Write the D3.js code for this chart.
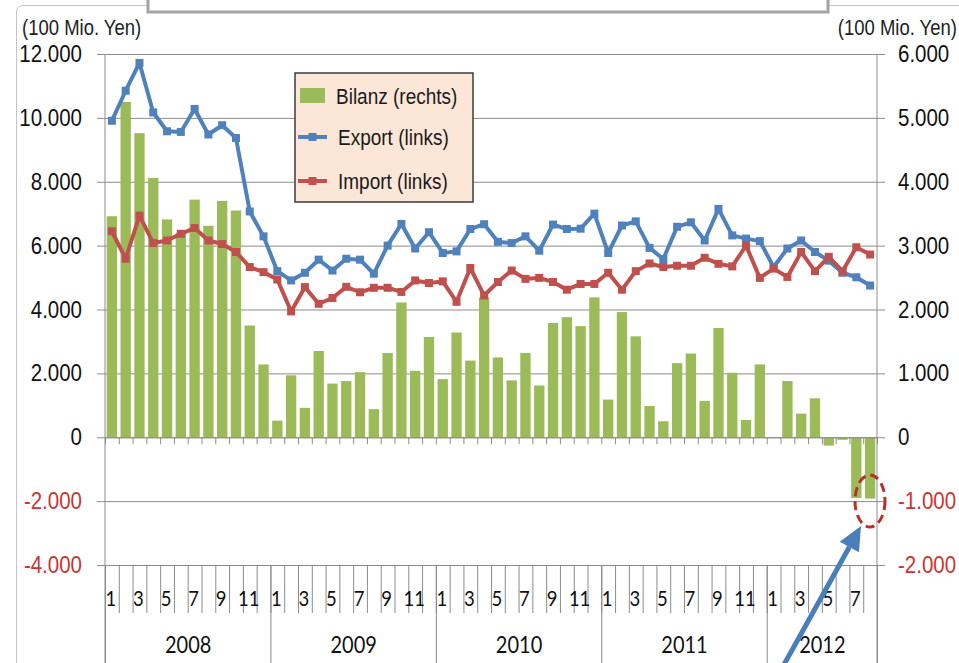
<!DOCTYPE html>
<html>
<head>
<meta charset="utf-8">
<script src="https://cdn.jsdelivr.net/npm/d3@7"></script>
<style>
body { margin: 0; background: #fff; }
svg text { transform-box: fill-box; transform-origin: center; transform: scaleY(1.15); }
</style>
</head>
<body>
<div id="chart"></div>
<script>
var years = ['2008', '2009', '2010', '2011', '2012'];
var monthsPerYear = [12, 12, 12, 12, 8];

// Bilanz, right axis (100 Mio. Yen)
var bilanz = [3460, 5250, 4760, 4060, 3410, 3200, 3720, 3310, 3700, 3550, 1750, 1140,
    260, 970, 460, 1350, 840, 880, 1020, 440, 1320, 2110, 1040, 1570,
    910, 1640, 1200, 2190, 1250, 890, 1320, 810, 1790, 1880, 1740, 2190,
    590, 1960, 1580, 490, 250, 1160, 1310, 570, 1710, 1010, 270, 1140,
    0, 880, 370, 610, -130, -40, -950, -960];

// Export / Import, left axis
var exportVals = [9910, 10850, 11720, 10170, 9580, 9560, 10280, 9480, 9770, 9370, 7070, 6290,
    5200, 4910, 5150, 5560, 5220, 5590, 5560, 5120, 6000, 6680, 5910, 6420,
    5770, 5820, 6520, 6670, 6120, 6080, 6290, 5840, 6660, 6520, 6530, 7000,
    5770, 6630, 6760, 5930, 5580, 6590, 6730, 6160, 7150, 6320, 6220, 6140,
    5330, 5910, 6160, 5800, 5530, 5150, 5010, 4750];
var importVals = [6450, 5590, 6940, 6080, 6160, 6370, 6550, 6160, 6050, 5800, 5330, 5170,
    4940, 3940, 4700, 4180, 4360, 4710, 4540, 4680, 4680, 4550, 4910, 4830,
    4880, 4240, 5300, 4440, 4860, 5220, 4960, 4990, 4860, 4620, 4800, 4800,
    5150, 4620, 5200, 5440, 5330, 5370, 5370, 5620, 5430, 5350, 6000, 4990,
    5280, 5020, 5800, 5200, 5650, 5200, 5950, 5720];

var leftTicks = [-4000, -2000, 0, 2000, 4000, 6000, 8000, 10000, 12000];
var rightTicks = [-2000, -1000, 0, 1000, 2000, 3000, 4000, 5000, 6000];
var legendLabels = ['Bilanz (rechts)', 'Export (links)', 'Import (links)'];
var unitLabel = '(100 Mio. Yen)';

var W = 959, H = 663;
var plot = {left: 105, right: 877, top: 54, bottom: 565};
var GREEN = '#9bbb59', BLUE = '#4f81bd', RED = '#c0504d', NEG = '#cc3333', GRID = '#8c8c8c';
var numFont = 'Liberation Sans, Arial, sans-serif';
var catFont = 'Lato, Carlito, Calibri, sans-serif';

var months = [];
var yearStarts = [];
years.forEach(function (y, yi) {
    yearStarts.push(months.length);
    for (var m = 1; m <= monthsPerYear[yi]; m++) {
        months.push({year: y, month: m});
    }
});
yearStarts.push(months.length);

var svg = d3.select('#chart').append('svg').attr('width', W).attr('height', H);

var x = d3.scaleBand().domain(d3.range(months.length))
    .range([plot.left, plot.right]).paddingInner(0.25).paddingOuter(0.125);
var xPos = d3.scaleLinear().domain([0, months.length]).range([plot.left, plot.right]);
var yL = d3.scaleLinear().domain([-4000, 12000]).range([plot.bottom, plot.top]);
var yR = d3.scaleLinear().domain([-2000, 6000]).range([plot.bottom, plot.top]);

var de = d3.formatLocale({decimal: ',', thousands: '.', grouping: [3], currency: ['', ' €'], minus: '-'});
var fmt = de.format(',');

function cx(i) { return x(i) + x.bandwidth() / 2; }

// outer frame and the cut-off text box at the top
svg.append('rect').attr('x', 16.5).attr('y', 5.5).attr('width', 1000).attr('height', 700).attr('rx', 6)
    .attr('fill', 'none').attr('stroke', '#c4c4c4');
svg.append('rect').attr('x', 148).attr('y', -20).attr('width', 680).attr('height', 32)
    .attr('fill', '#fff').attr('stroke', '#a3a3a3').attr('stroke-width', 3);

// gridlines
svg.append('g').attr('transform', 'translate(' + plot.left + ',0)')
    .call(d3.axisLeft(yL).tickValues(leftTicks).tickSize(-(plot.right - plot.left)).tickFormat(''))
    .call(function (g) {
        g.select('.domain').remove();
        g.selectAll('line').attr('stroke', GRID);
    });

// bars
svg.append('g').selectAll('rect').data(bilanz).enter().append('rect')
    .attr('x', function (d, i) { return x(i); })
    .attr('width', x.bandwidth())
    .attr('y', function (d) { return yR(Math.max(0, d)); })
    .attr('height', function (d) { return Math.abs(yR(d) - yR(0)); })
    .attr('fill', GREEN);

// zero line with month ticks
svg.append('g').attr('transform', 'translate(0,' + yL(0) + ')')
    .call(d3.axisBottom(xPos).tickValues(d3.range(months.length + 1)).tickSizeInner(7).tickSizeOuter(0).tickFormat(''))
    .call(function (g) { g.selectAll('line, path').attr('stroke', GRID); });

// category table under the plot
svg.append('g').attr('transform', 'translate(0,' + plot.bottom + ')')
    .call(d3.axisBottom(xPos).tickValues(d3.range(months.length + 1)).tickSizeInner(48).tickSizeOuter(0).tickFormat(''))
    .call(function (g) { g.selectAll('line, path').attr('stroke', GRID); });
svg.append('g').attr('transform', 'translate(0,' + plot.bottom + ')')
    .call(d3.axisBottom(xPos).tickValues(yearStarts).tickSizeInner(100).tickSizeOuter(0).tickFormat(''))
    .call(function (g) { g.selectAll('line, path').attr('stroke', GRID); });

svg.append('g').attr('transform', 'translate(0,' + plot.bottom + ')')
    .call(d3.axisBottom(x).tickValues(d3.range(months.length).filter(function (i) { return months[i].month % 2 == 1; }))
        .tickSize(0).tickFormat(function (i) { return months[i].month; }))
    .call(function (g) {
        g.select('.domain').remove();
        g.attr('font-family', catFont).attr('font-size', 18.5);
        g.selectAll('text').attr('x', -1).attr('y', 33).attr('dy', '0.35em').attr('fill', '#111');
    });

var yearCenters = years.map(function (y, i) { return (yearStarts[i] + yearStarts[i + 1]) / 2; });
svg.append('g').attr('transform', 'translate(0,' + plot.bottom + ')')
    .call(d3.axisBottom(xPos).tickValues(yearCenters).tickSize(0)
        .tickFormat(function (d, i) { return years[i]; }))
    .call(function (g) {
        g.select('.domain').remove();
        g.attr('font-family', catFont).attr('font-size', 20);
        g.selectAll('text').attr('y', 80).attr('dy', '0.35em').attr('fill', '#111');
    });

// vertical axis lines
svg.append('line').attr('x1', plot.left).attr('x2', plot.left).attr('y1', plot.top).attr('y2', H)
    .attr('stroke', GRID);
svg.append('line').attr('x1', plot.right).attr('x2', plot.right).attr('y1', plot.top).attr('y2', H)
    .attr('stroke', GRID);

// left axis
svg.append('g').attr('transform', 'translate(' + plot.left + ',0)')
    .call(d3.axisLeft(yL).tickValues(leftTicks).tickSizeInner(8).tickSizeOuter(0).tickPadding(15).tickFormat(fmt))
    .call(function (g) {
        g.select('.domain').remove();
        g.attr('font-family', numFont).attr('font-size', 20.5);
        g.selectAll('line').attr('stroke', GRID);
        g.selectAll('text').attr('fill', function (d) { return d < 0 ? NEG : '#111'; });
    });

// right axis
svg.append('g').attr('transform', 'translate(' + plot.right + ',0)')
    .call(d3.axisRight(yR).tickValues(rightTicks).tickSizeInner(8).tickSizeOuter(0).tickPadding(13).tickFormat(fmt))
    .call(function (g) {
        g.select('.domain').remove();
        g.attr('font-family', numFont).attr('font-size', 20.5);
        g.selectAll('line').attr('stroke', GRID);
        g.selectAll('text').attr('fill', function (d) { return d < 0 ? NEG : '#111'; });
    });

// unit labels
svg.append('text').attr('x', 22).attr('y', 28).attr('dy', '0.35em')
    .attr('font-family', numFont).attr('font-size', 18.5).attr('fill', '#222').text(unitLabel);
svg.append('text').attr('x', 957).attr('y', 28).attr('dy', '0.35em').attr('text-anchor', 'end')
    .attr('font-family', numFont).attr('font-size', 18.5).attr('fill', '#222').text(unitLabel);

// lines with square markers
function drawSeries(values, color) {
    var line = d3.line()
        .x(function (d, i) { return cx(i); })
        .y(function (d) { return yL(d); });
    svg.append('path').datum(values).attr('d', line)
        .attr('fill', 'none').attr('stroke', color).attr('stroke-width', 4).attr('stroke-linejoin', 'round');
    svg.append('g').selectAll('rect').data(values).enter().append('rect')
        .attr('x', function (d, i) { return cx(i) - 4; })
        .attr('y', function (d) { return yL(d) - 4; })
        .attr('width', 8).attr('height', 8)
        .attr('fill', color);
}
drawSeries(exportVals, BLUE);
drawSeries(importVals, RED);

// legend
var legend = svg.append('g').attr('transform', 'translate(295,73)');
legend.append('rect').attr('width', 178).attr('height', 129)
    .attr('fill', '#fce6d8').attr('stroke', '#3c3c3c').attr('stroke-width', 1.5);
var legendY = [23, 64, 108];
var legendColors = [GREEN, BLUE, RED];
legendLabels.forEach(function (label, i) {
    if (i == 0) {
        legend.append('rect').attr('x', 5).attr('y', legendY[i] - 8).attr('width', 25).attr('height', 15)
            .attr('fill', GREEN);
    } else {
        legend.append('line').attr('x1', 3).attr('x2', 32).attr('y1', legendY[i]).attr('y2', legendY[i])
            .attr('stroke', legendColors[i]).attr('stroke-width', 4);
        legend.append('rect').attr('x', 13.5).attr('y', legendY[i] - 4).attr('width', 8).attr('height', 8)
            .attr('fill', legendColors[i]);
    }
    legend.append('text').attr('x', i == 0 ? 41 : 43).attr('y', legendY[i]).attr('dy', '0.35em')
        .attr('font-family', numFont).attr('font-size', 19).attr('fill', '#1a1a1a').text(label);
});

// annotation: dashed ellipse and arrow
svg.append('ellipse').attr('cx', 870).attr('cy', 501).attr('rx', 15).attr('ry', 26)
    .attr('fill', 'none').attr('stroke', '#b8302c').attr('stroke-width', 3).attr('stroke-dasharray', '9,5');

var a0 = [781, 670], a1 = [861, 526];
var dx = a1[0] - a0[0], dy = a1[1] - a0[1], len = Math.sqrt(dx * dx + dy * dy);
var ux = dx / len, uy = dy / len;
var bx = a1[0] - 24 * ux, by = a1[1] - 24 * uy;
svg.append('line').attr('x1', a0[0]).attr('y1', a0[1]).attr('x2', bx).attr('y2', by)
    .attr('stroke', '#4a7ebb').attr('stroke-width', 5);
svg.append('path')
    .attr('d', 'M' + a1[0] + ',' + a1[1] + 'L' + (bx - 11 * uy) + ',' + (by + 11 * ux) +
        'L' + (bx + 11 * uy) + ',' + (by - 11 * ux) + 'Z')
    .attr('fill', '#4a7ebb');
</script>
</body>
</html>
